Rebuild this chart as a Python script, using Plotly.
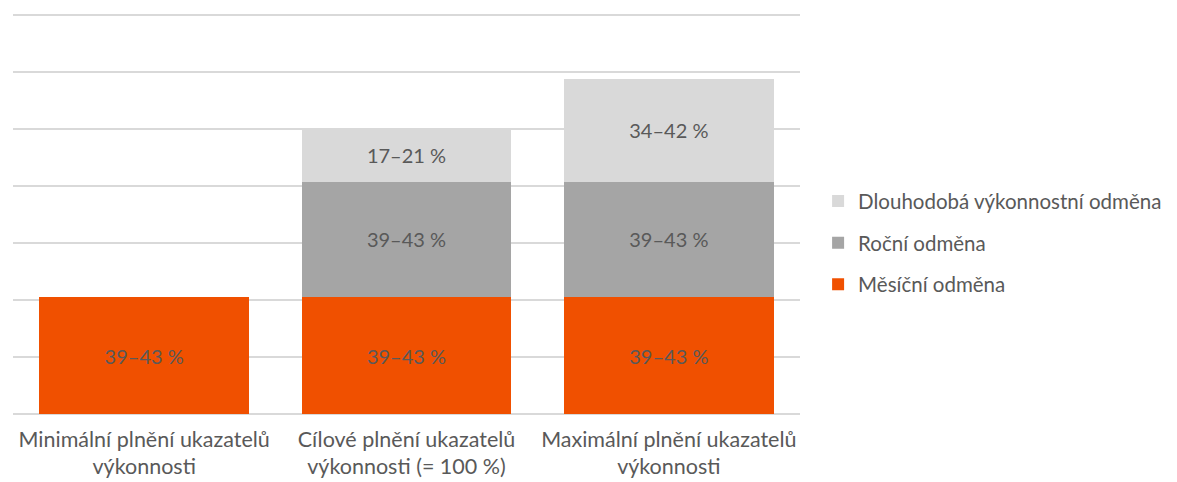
import plotly.graph_objects as go

categories = ["Minimální plnění ukazatelů<br>výkonnosti",
              "Cílové plnění ukazatelů<br>výkonnosti (= 100 %)",
              "Maximální plnění ukazatelů<br>výkonnosti"]

series_names = ["Měsíční odměna", "Roční odměna", "Dlouhodobá výkonnostní odměna"]
mesicni = [41, 41, 41]
rocni = [None, 40.5, 40.5]
dlouhodoba = [None, 18.6, 36.1]

mesicni_labels = ["39–43 %", "39–43 %", "39–43 %"]
rocni_labels = ["", "39–43 %", "39–43 %"]
dlouhodoba_labels = ["", "17–21 %", "34–42 %"]

colors = ["#F05000", "#A5A5A5", "#D9D9D9"]
FONT = "Lato"
TXT = "#595959"

fig = go.Figure()
for name, vals, labels, col, rank in [
    (series_names[0], mesicni, mesicni_labels, colors[0], 3),
    (series_names[1], rocni, rocni_labels, colors[1], 2),
    (series_names[2], dlouhodoba, dlouhodoba_labels, colors[2], 1),
]:
    fig.add_trace(go.Bar(
        x=categories, y=vals, name=name, marker_color=col,
        marker_line_width=0, text=labels, textposition="inside",
        insidetextanchor="middle", textangle=0,
        textfont=dict(family=FONT, size=20, color=TXT),
        legendgroup=name, legendrank=rank,
    ))

# plot area: value 140 at y=15, value 0 at y=414 (page offset 8px)
fig.update_layout(
    barmode="stack",
    bargap=0.2,
    width=1177, height=482,
    margin=dict(l=5, r=385, t=3, b=76, autoexpand=False),
    plot_bgcolor="white", paper_bgcolor="white",
    font=dict(family=FONT, size=21, color=TXT),
    uniformtext=dict(minsize=20, mode="show"),
    legend=dict(
        x=1.023, y=0.425, xanchor="left", yanchor="middle",
        traceorder="grouped", tracegroupgap=12,
        font=dict(family=FONT, size=20.5, color=TXT),
        itemwidth=30,
    ),
    yaxis=dict(range=[0, 141.4], dtick=20, showticklabels=False,
               gridcolor="#D9D9D9", gridwidth=1.5, zeroline=True,
               zerolinecolor="#D9D9D9", zerolinewidth=1.5, fixedrange=True),
    xaxis=dict(showline=False, ticks="", automargin=False, ticklabelstandoff=10,
               tickfont=dict(family=FONT, size=21.5, color=TXT)),
)

fig.write_html("out.html")
